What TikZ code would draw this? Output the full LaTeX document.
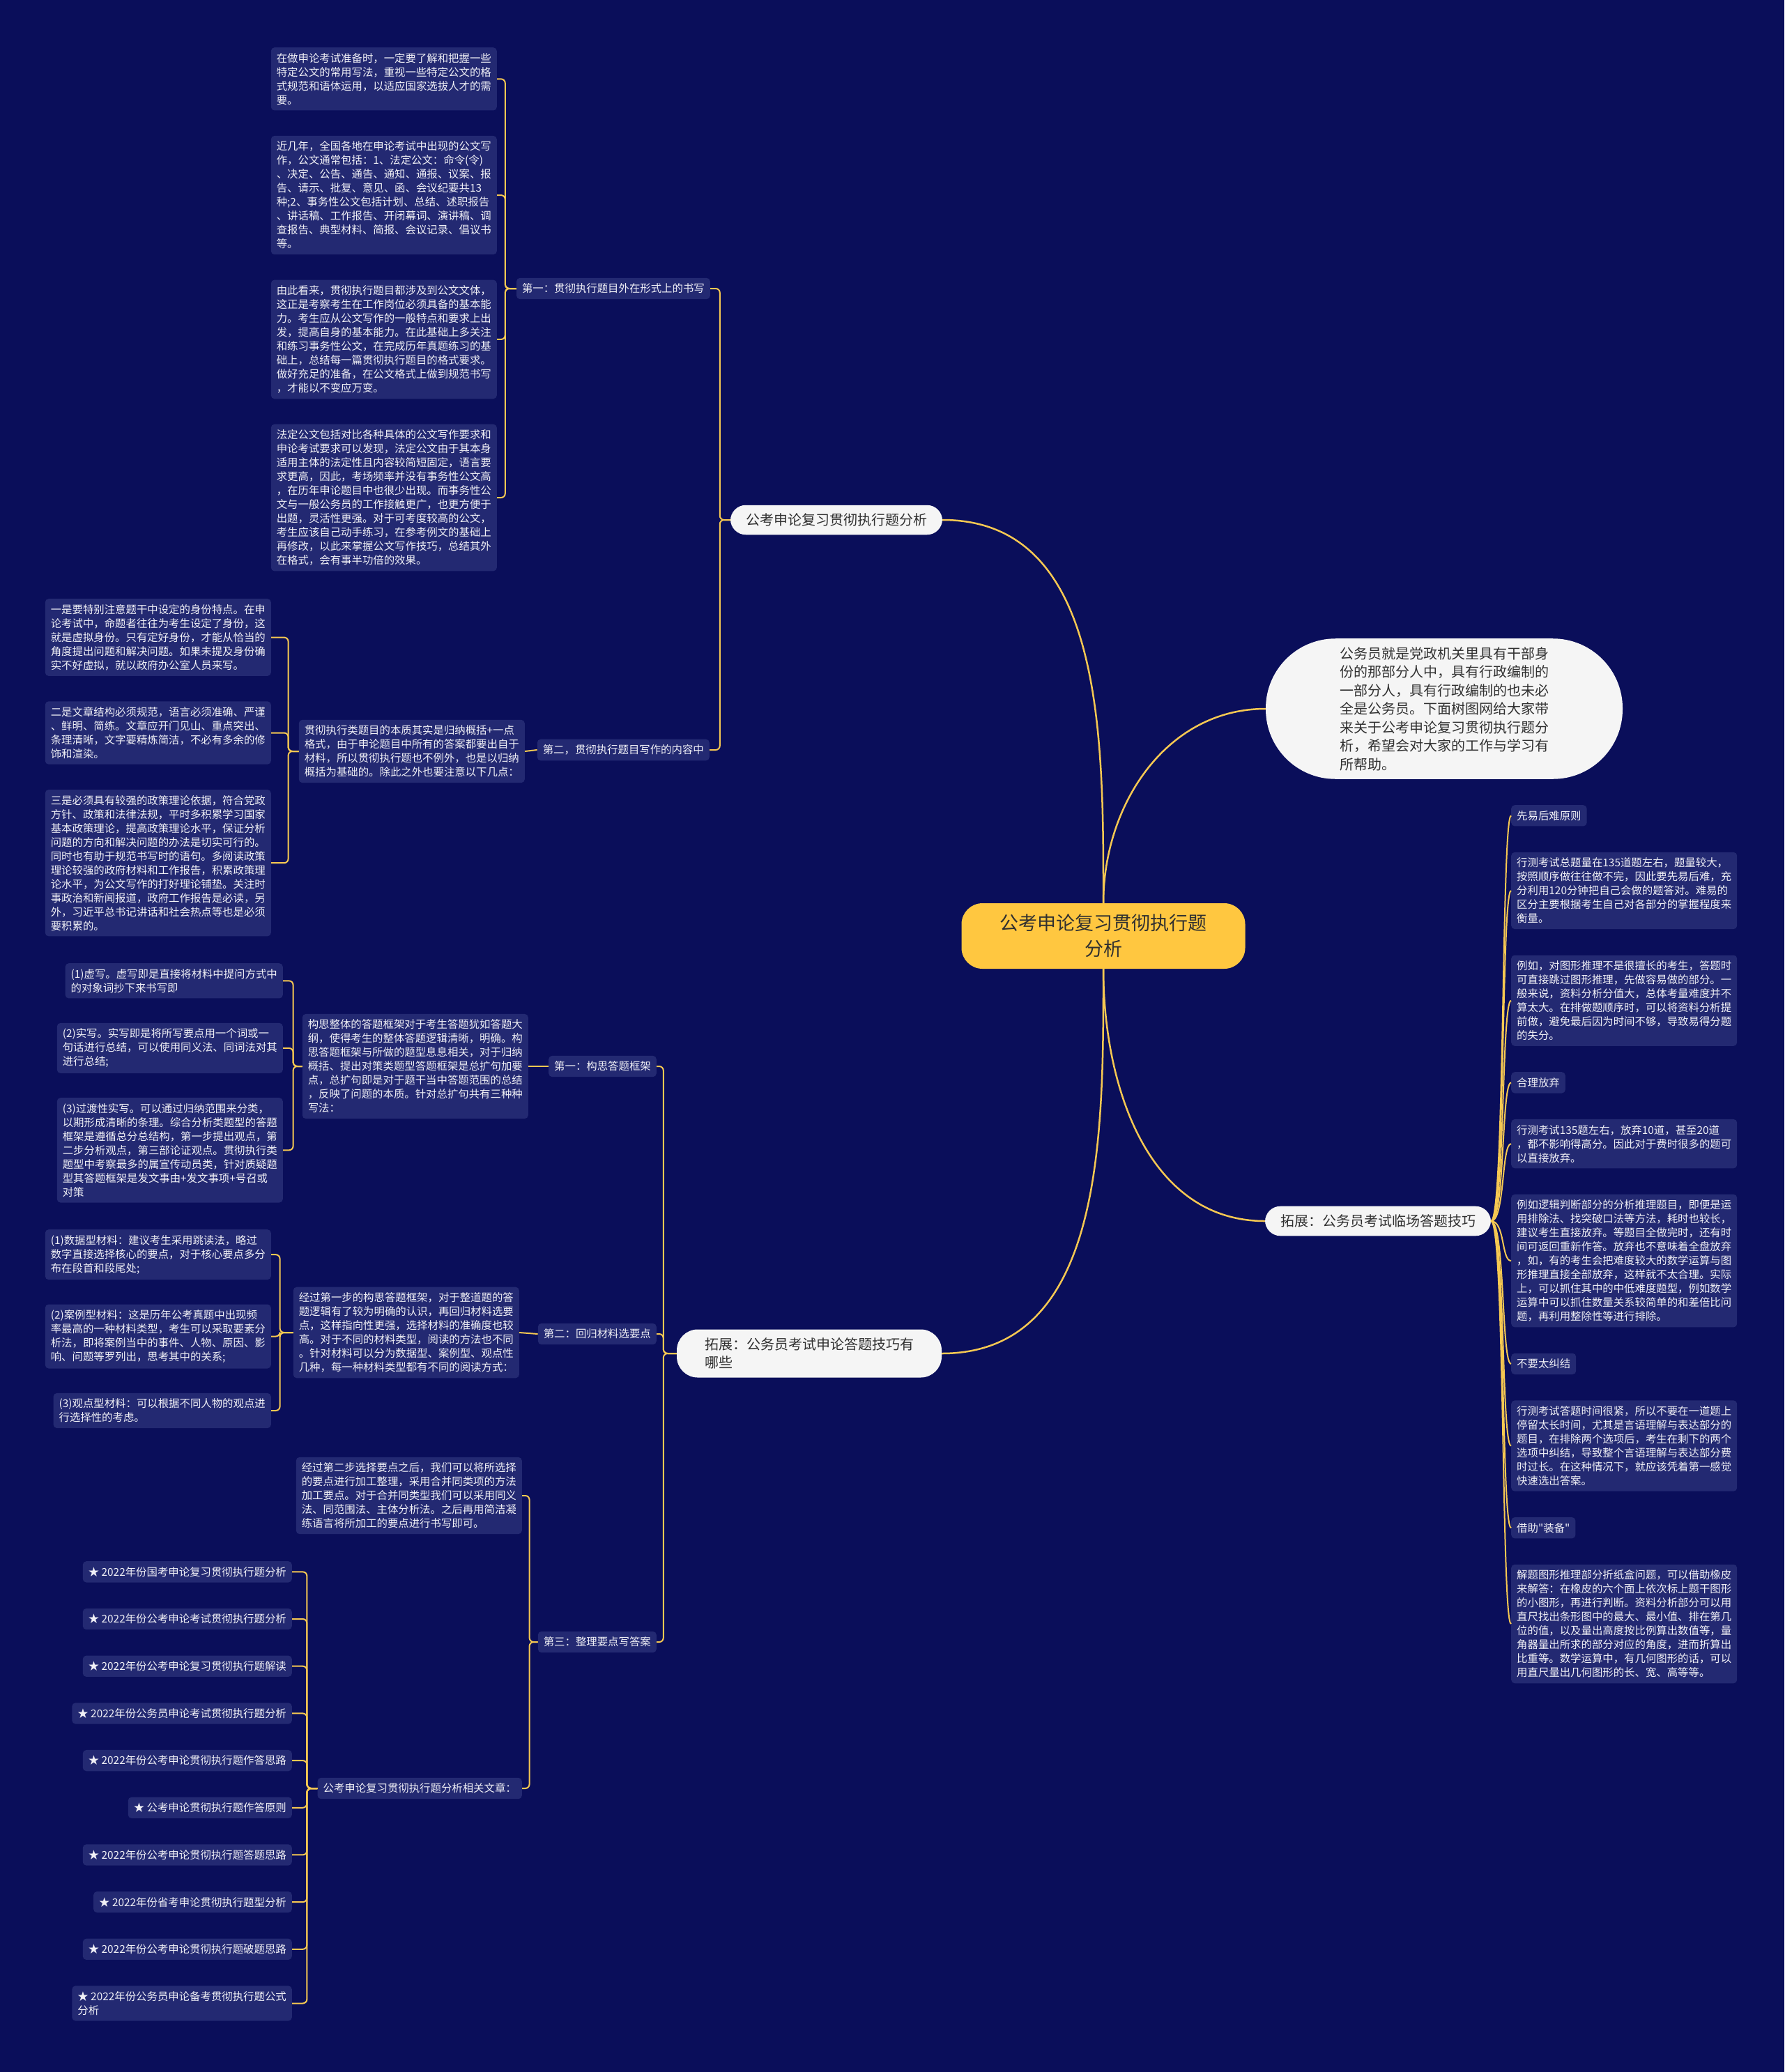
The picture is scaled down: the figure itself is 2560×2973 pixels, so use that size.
\documentclass[tikz,border=0pt]{standalone}
\usepackage{fontspec}
\setmainfont{Noto Sans CJK SC}
\usepackage{tikz}
\usetikzlibrary{positioning}
\definecolor{bgnavy}{RGB}{10,14,90}
\definecolor{leafnavy}{RGB}{35,41,114}
\definecolor{leaftext}{RGB}{240,240,246}
\definecolor{linegold}{RGB}{246,200,82}
\definecolor{rootgold}{RGB}{255,199,64}
\definecolor{pillgray}{RGB}{245,245,245}
\definecolor{inkgray}{RGB}{48,48,48}
\newcommand{\leafsize}{\fontsize{15.4}{20}\selectfont}
\newcommand{\pillsize}{\fontsize{20}{26.5}\selectfont}
\newcommand{\rootsize}{\fontsize{27}{37}\selectfont}

\begin{document}
\begin{tikzpicture}[x=1pt, y=1pt,
  rootbox/.style={fill=rootgold, text=inkgray, font=\rootsize, align=center,
                  inner xsep=55pt, inner ysep=16pt, rounded corners=30pt},
  pillbox/.style={fill=pillgray, text=inkgray, font=\pillsize, align=left,
                  inner xsep=22pt, inner ysep=12pt, rounded corners=22pt},
  leafbox/.style={fill=leafnavy, text=leaftext, font=\leafsize, align=left,
                  inner xsep=8pt, inner ysep=8pt, rounded corners=5pt},
  trunkline/.style={draw=linegold, line width=2.5pt},
  braceline/.style={draw=linegold, line width=2pt, rounded corners=6pt},
  twigline/.style={draw=linegold, line width=2pt}
]
\useasboundingbox (0,0) rectangle (2560,-2973);
\fill[bgnavy] (0,0) rectangle (2560,-2973);

\node[rootbox] (root) at (1583,-1343) {公考申论复习贯彻执行题\\分析};
\node[pillbox] (topic) at (1200,-746) {公考申论复习贯彻执行题分析};
\node[pillbox, inner xsep=106pt, rounded corners=100pt] (intro) at (2072,-1017)
  {公务员就是党政机关里具有干部身\\份的那部分人中，具有行政编制的\\一部分人，具有行政编制的也未必\\全是公务员。下面树图网给大家带\\来关于公考申论复习贯彻执行题分\\析，希望会对大家的工作与学习有\\所帮助。};
\node[pillbox] (tips) at (1977,-1752) {拓展：公务员考试临场答题技巧};
\node[pillbox, inner xsep=40pt, rounded corners=30pt] (skills) at (1161,-1942)
  {拓展：公务员考试申论答题技巧有\\哪些};

\node[leafbox, anchor=east] (form) at (1019,-414) {第一：贯彻执行题目外在形式上的书写};
\node[leafbox, anchor=east] (content) at (1018,-1076) {第二，贯彻执行题目写作的内容中};

\node[leafbox, anchor=north east] (form1) at (713,-68)
  {在做申论考试准备时，一定要了解和把握一些\\特定公文的常用写法，重视一些特定公文的格\\式规范和语体运用，以适应国家选拔人才的需\\要。};
\node[leafbox, below=36pt of form1.south east, anchor=north east] (form2)
  {近几年，全国各地在申论考试中出现的公文写\\作，公文通常包括：1、法定公文：命令(令)\\、决定、公告、通告、通知、通报、议案、报\\告、请示、批复、意见、函、会议纪要共13\\种;2、事务性公文包括计划、总结、述职报告\\、讲话稿、工作报告、开闭幕词、演讲稿、调\\查报告、典型材料、简报、会议记录、倡议书\\等。};
\node[leafbox, below=36pt of form2.south east, anchor=north east] (form3)
  {由此看来，贯彻执行题目都涉及到公文文体，\\这正是考察考生在工作岗位必须具备的基本能\\力。考生应从公文写作的一般特点和要求上出\\发，提高自身的基本能力。在此基础上多关注\\和练习事务性公文，在完成历年真题练习的基\\础上，总结每一篇贯彻执行题目的格式要求。\\做好充足的准备，在公文格式上做到规范书写\\，才能以不变应万变。};
\node[leafbox, below=36pt of form3.south east, anchor=north east] (form4)
  {法定公文包括对比各种具体的公文写作要求和\\申论考试要求可以发现，法定公文由于其本身\\适用主体的法定性且内容较简短固定，语言要\\求更高，因此，考场频率并没有事务性公文高\\，在历年申论题目中也很少出现。而事务性公\\文与一般公务员的工作接触更广，也更方便于\\出题，灵活性更强。对于可考度较高的公文，\\考生应该自己动手练习，在参考例文的基础上\\再修改，以此来掌握公文写作技巧，总结其外\\在格式，会有事半功倍的效果。};

\node[leafbox, anchor=east] (gist) at (753,-1078)
  {贯彻执行类题目的本质其实是归纳概括+一点\\格式，由于申论题目中所有的答案都要出自于\\材料，所以贯彻执行题也不例外，也是以归纳\\概括为基础的。除此之外也要注意以下几点：};
\node[leafbox, anchor=north east] (point1) at (389,-859)
  {一是要特别注意题干中设定的身份特点。在申\\论考试中，命题者往往为考生设定了身份，这\\就是虚拟身份。只有定好身份，才能从恰当的\\角度提出问题和解决问题。如果未提及身份确\\实不好虚拟，就以政府办公室人员来写。};
\node[leafbox, below=36pt of point1.south east, anchor=north east] (point2)
  {二是文章结构必须规范，语言必须准确、严谨\\、鲜明、简练。文章应开门见山、重点突出、\\条理清晰，文字要精炼简洁，不必有多余的修\\饰和渲染。};
\node[leafbox, below=36pt of point2.south east, anchor=north east] (point3)
  {三是必须具有较强的政策理论依据，符合党政\\方针、政策和法律法规，平时多积累学习国家\\基本政策理论，提高政策理论水平，保证分析\\问题的方向和解决问题的办法是切实可行的。\\同时也有助于规范书写时的语句。多阅读政策\\理论较强的政府材料和工作报告，积累政策理\\论水平，为公文写作的打好理论铺垫。关注时\\事政治和新闻报道，政府工作报告是必读，另\\外，习近平总书记讲话和社会热点等也是必须\\要积累的。};

\node[leafbox, anchor=east] (frame) at (942,-1530) {第一：构思答题框架};
\node[leafbox, anchor=east] (frametxt) at (758,-1530)
  {构思整体的答题框架对于考生答题犹如答题大\\纲，使得考生的整体答题逻辑清晰，明确。构\\思答题框架与所做的题型息息相关，对于归纳\\概括、提出对策类题型答题框架是总扩句加要\\点，总扩句即是对于题干当中答题范围的总结\\，反映了问题的本质。针对总扩句共有三种种\\写法：};
\node[leafbox, anchor=north east] (frame1) at (406,-1382)
  {(1)虚写。虚写即是直接将材料中提问方式中\\的对象词抄下来书写即};
\node[leafbox, below=35pt of frame1.south east, anchor=north east] (frame2)
  {(2)实写。实写即是将所写要点用一个词或一\\句话进行总结，可以使用同义法、同词法对其\\进行总结;};
\node[leafbox, below=35pt of frame2.south east, anchor=north east] (frame3)
  {(3)过渡性实写。可以通过归纳范围来分类，\\以期形成清晰的条理。综合分析类题型的答题\\框架是遵循总分总结构，第一步提出观点，第\\二步分析观点，第三部论证观点。贯彻执行类\\题型中考察最多的属宣传动员类，针对质疑题\\型其答题框架是发文事由+发文事项+号召或\\对策};

\node[leafbox, anchor=east] (pick) at (942,-1914) {第二：回归材料选要点};
\node[leafbox, anchor=east] (picktxt) at (745,-1912)
  {经过第一步的构思答题框架，对于整道题的答\\题逻辑有了较为明确的认识，再回归材料选要\\点，这样指向性更强，选择材料的准确度也较\\高。对于不同的材料类型，阅读的方法也不同\\。针对材料可以分为数据型、案例型、观点性\\几种，每一种材料类型都有不同的阅读方式：};
\node[leafbox, anchor=north east] (pick1) at (389,-1764)
  {(1)数据型材料：建议考生采用跳读法，略过\\数字直接选择核心的要点，对于核心要点多分\\布在段首和段尾处;};
\node[leafbox, below=35pt of pick1.south east, anchor=north east] (pick2)
  {(2)案例型材料：这是历年公考真题中出现频\\率最高的一种材料类型，考生可以采取要素分\\析法，即将案例当中的事件、人物、原因、影\\响、问题等罗列出，思考其中的关系;};
\node[leafbox, below=35pt of pick2.south east, anchor=north east] (pick3)
  {(3)观点型材料：可以根据不同人物的观点进\\行选择性的考虑。};

\node[leafbox, anchor=east] (sort) at (942,-2356) {第三：整理要点写答案};
\node[leafbox, anchor=east] (sorttxt) at (749,-2146)
  {经过第二步选择要点之后，我们可以将所选择\\的要点进行加工整理，采用合并同类项的方法\\加工要点。对于合并同类型我们可以采用同义\\法、同范围法、主体分析法。之后再用简洁凝\\练语言将所加工的要点进行书写即可。};
\node[leafbox, anchor=east] (links) at (749,-2566) {公考申论复习贯彻执行题分析相关文章：};
\node[leafbox, anchor=north east] (art1) at (419,-2240) {★ 2022年份国考申论复习贯彻执行题分析};
\node[leafbox, below=37pt of art1.south east, anchor=north east] (art2) {★ 2022年份公考申论考试贯彻执行题分析};
\node[leafbox, below=37pt of art2.south east, anchor=north east] (art3) {★ 2022年份公考申论复习贯彻执行题解读};
\node[leafbox, below=37pt of art3.south east, anchor=north east] (art4) {★ 2022年份公务员申论考试贯彻执行题分析};
\node[leafbox, below=37pt of art4.south east, anchor=north east] (art5) {★ 2022年份公考申论贯彻执行题作答思路};
\node[leafbox, below=37pt of art5.south east, anchor=north east] (art6) {★ 公考申论贯彻执行题作答原则};
\node[leafbox, below=37pt of art6.south east, anchor=north east] (art7) {★ 2022年份公考申论贯彻执行题答题思路};
\node[leafbox, below=37pt of art7.south east, anchor=north east] (art8) {★ 2022年份省考申论贯彻执行题型分析};
\node[leafbox, below=37pt of art8.south east, anchor=north east] (art9) {★ 2022年份公考申论贯彻执行题破题思路};
\node[leafbox, below=37pt of art9.south east, anchor=north east] (art10) {★ 2022年份公务员申论备考贯彻执行题公式\\分析};

\node[leafbox, anchor=north west] (ease) at (2168,-1155) {先易后难原则};
\node[leafbox, below=37pt of ease.south west, anchor=north west] (ease1)
  {行测考试总题量在135道题左右，题量较大，\\按照顺序做往往做不完，因此要先易后难，充\\分利用120分钟把自己会做的题答对。难易的\\区分主要根据考生自己对各部分的掌握程度来\\衡量。};
\node[leafbox, below=37pt of ease1.south west, anchor=north west] (ease2)
  {例如，对图形推理不是很擅长的考生，答题时\\可直接跳过图形推理，先做容易做的部分。一\\般来说，资料分析分值大，总体考量难度并不\\算太大。在排做题顺序时，可以将资料分析提\\前做，避免最后因为时间不够，导致易得分题\\的失分。};
\node[leafbox, below=37pt of ease2.south west, anchor=north west] (drop) {合理放弃};
\node[leafbox, below=37pt of drop.south west, anchor=north west] (drop1)
  {行测考试135题左右，放弃10道，甚至20道\\，都不影响得高分。因此对于费时很多的题可\\以直接放弃。};
\node[leafbox, below=37pt of drop1.south west, anchor=north west] (drop2)
  {例如逻辑判断部分的分析推理题目，即便是运\\用排除法、找突破口法等方法，耗时也较长，\\建议考生直接放弃。等题目全做完时，还有时\\间可返回重新作答。放弃也不意味着全盘放弃\\，如，有的考生会把难度较大的数学运算与图\\形推理直接全部放弃，这样就不太合理。实际\\上，可以抓住其中的中低难度题型，例如数学\\运算中可以抓住数量关系较简单的和差倍比问\\题，再利用整除性等进行排除。};
\node[leafbox, below=37pt of drop2.south west, anchor=north west] (calm) {不要太纠结};
\node[leafbox, below=37pt of calm.south west, anchor=north west] (calm1)
  {行测考试答题时间很紧，所以不要在一道题上\\停留太长时间，尤其是言语理解与表达部分的\\题目，在排除两个选项后，考生在剩下的两个\\选项中纠结，导致整个言语理解与表达部分费\\时过长。在这种情况下，就应该凭着第一感觉\\快速选出答案。};
\node[leafbox, below=37pt of calm1.south west, anchor=north west] (tool) {借助\textquotedbl 装备\textquotedbl};
\node[leafbox, below=37pt of tool.south west, anchor=north west] (tool1)
  {解题图形推理部分折纸盒问题，可以借助橡皮\\来解答：在橡皮的六个面上依次标上题干图形\\的小图形，再进行判断。资料分析部分可以用\\直尺找出条形图中的最大、最小值、排在第几\\位的值，以及量出高度按比例算出数值等，量\\角器量出所求的部分对应的角度，进而折算出\\比重等。数学运算中，有几何图形的话，可以\\用直尺量出几何图形的长、宽、高等等。};

\draw[trunkline] (root.north) to[out=90,in=0] (topic.east);
\draw[trunkline] (root.north) to[out=90,in=180] (intro.west);
\draw[trunkline] (root.south) to[out=-90,in=180] (tips.west);
\draw[trunkline] (root.south) to[out=-90,in=0] (skills.east);

\draw[braceline] (topic.west) -- ++(-15,0) |- (form.east);
\draw[braceline] (topic.west) -- ++(-15,0) |- (content.east);
\draw[braceline] (form.west) -- ++(-16,0) |- (form1.east);
\draw[braceline] (form.west) -- ++(-16,0) |- (form2.east);
\draw[braceline] (form.west) -- ++(-16,0) |- (form3.east);
\draw[braceline] (form.west) -- ++(-16,0) |- (form4.east);
\draw[twigline] (content.west) -- (gist.east);
\draw[braceline] (gist.west) -- ++(-15,0) |- (point1.east);
\draw[braceline] (gist.west) -- ++(-15,0) |- (point2.east);
\draw[braceline] (gist.west) -- ++(-15,0) |- (point3.east);

\draw[braceline] (skills.west) -- ++(-19,0) |- (frame.east);
\draw[braceline] (skills.west) -- ++(-19,0) |- (pick.east);
\draw[braceline] (skills.west) -- ++(-19,0) |- (sort.east);
\draw[twigline] (frame.west) -- (frametxt.east);
\draw[braceline] (frametxt.west) -- ++(-13,0) |- (frame1.east);
\draw[braceline] (frametxt.west) -- ++(-13,0) |- (frame2.east);
\draw[braceline] (frametxt.west) -- ++(-13,0) |- (frame3.east);
\draw[twigline] (pick.west) -- (picktxt.east);
\draw[braceline] (picktxt.west) -- ++(-19,0) |- (pick1.east);
\draw[braceline] (picktxt.west) -- ++(-19,0) |- (pick2.east);
\draw[braceline] (picktxt.west) -- ++(-19,0) |- (pick3.east);
\draw[braceline] (sort.west) -- ++(-12,0) |- (sorttxt.east);
\draw[braceline] (sort.west) -- ++(-12,0) |- (links.east);
\draw[braceline] (links.west) -- ++(-15,0) |- (art1.east);
\draw[braceline] (links.west) -- ++(-15,0) |- (art2.east);
\draw[braceline] (links.west) -- ++(-15,0) |- (art3.east);
\draw[braceline] (links.west) -- ++(-15,0) |- (art4.east);
\draw[braceline] (links.west) -- ++(-15,0) |- (art5.east);
\draw[braceline] (links.west) -- ++(-15,0) |- (art6.east);
\draw[braceline] (links.west) -- ++(-15,0) |- (art7.east);
\draw[braceline] (links.west) -- ++(-15,0) |- (art8.east);
\draw[braceline] (links.west) -- ++(-15,0) |- (art9.east);
\draw[braceline] (links.west) -- ++(-15,0) |- (art10.east);

\draw[twigline] (tips.east) .. controls +(20,0) and +(-14,0) .. (ease.west);
\draw[twigline] (tips.east) .. controls +(20,0) and +(-14,0) .. (ease1.west);
\draw[twigline] (tips.east) .. controls +(20,0) and +(-14,0) .. (ease2.west);
\draw[twigline] (tips.east) .. controls +(20,0) and +(-14,0) .. (drop.west);
\draw[twigline] (tips.east) .. controls +(20,0) and +(-14,0) .. (drop1.west);
\draw[twigline] (tips.east) .. controls +(20,0) and +(-14,0) .. (drop2.west);
\draw[twigline] (tips.east) .. controls +(20,0) and +(-14,0) .. (calm.west);
\draw[twigline] (tips.east) .. controls +(20,0) and +(-14,0) .. (calm1.west);
\draw[twigline] (tips.east) .. controls +(20,0) and +(-14,0) .. (tool.west);
\draw[twigline] (tips.east) .. controls +(20,0) and +(-14,0) .. (tool1.west);
\end{tikzpicture}
\end{document}
